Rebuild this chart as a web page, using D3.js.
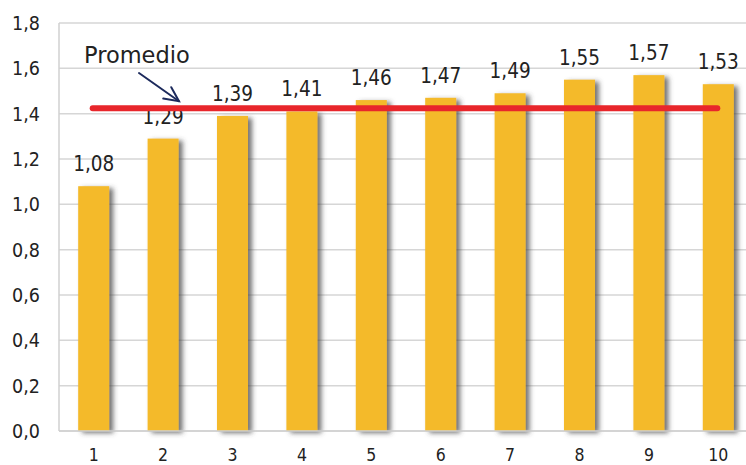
<!DOCTYPE html>
<html>
<head>
<meta charset="utf-8">
<script src="https://cdn.jsdelivr.net/npm/d3@7"></script>
<style>
  html, body { margin: 0; padding: 0; background: #fff; }
  svg { display: block; }
</style>
</head>
<body>
<svg id="chart" width="746" height="465"></svg>
<script>
// Categories (1..10) and their values
const categories = ["1", "2", "3", "4", "5", "6", "7", "8", "9", "10"];
const values = [1.08, 1.29, 1.39, 1.41, 1.46, 1.47, 1.49, 1.55, 1.57, 1.53];
const valueLabels = ["1,08", "1,29", "1,39", "1,41", "1,46", "1,47", "1,49", "1,55", "1,57", "1,53"];
const yTicks = [0, 0.2, 0.4, 0.6, 0.8, 1.0, 1.2, 1.4, 1.6, 1.8];
const yTickLabels = ["0,0", "0,2", "0,4", "0,6", "0,8", "1,0", "1,2", "1,4", "1,6", "1,8"];
const averageLabel = "Promedio";

const average = d3.mean(values);

const svg = d3.select("#chart");
const margin = { left: 59, top: 23, right: 753, bottom: 431 };
const font = "DejaVu Sans Condensed, DejaVu Sans, sans-serif";

const x = d3.scaleBand()
  .domain(categories)
  .range([margin.left, margin.right])
  .paddingInner(0.553)
  .paddingOuter(0.2765);

const y = d3.scaleLinear()
  .domain([0, 1.8])
  .range([margin.bottom, margin.top]);

// Soft shadow to the right of each bar
const defs = svg.append("defs");
const f = defs.append("filter").attr("id", "barShadow")
  .attr("x", "-20%").attr("y", "-5%").attr("width", "170%").attr("height", "115%");
f.append("feDropShadow")
  .attr("dx", 4).attr("dy", 2).attr("stdDeviation", 2.4)
  .attr("flood-color", "#444").attr("flood-opacity", 0.75);

// Horizontal gridlines
svg.append("g")
  .selectAll("line")
  .data(yTicks)
  .join("line")
  .attr("x1", margin.left).attr("x2", margin.right)
  .attr("y1", d => y(d)).attr("y2", d => y(d))
  .attr("stroke", "#d6d6d6").attr("stroke-width", 1.5);

// Left axis line
svg.append("line")
  .attr("x1", margin.left).attr("x2", margin.left)
  .attr("y1", y(1.8)).attr("y2", y(0))
  .attr("stroke", "#d0d0d0").attr("stroke-width", 1.5);

// Y tick labels
svg.append("g")
  .selectAll("text")
  .data(yTicks)
  .join("text")
  .attr("x", 40)
  .attr("y", d => y(d) + 7)
  .attr("text-anchor", "end")
  .attr("font-family", font)
  .attr("font-size", 19.5)
  .attr("fill", "#222")
  .text((d, i) => yTickLabels[i]);

// Bars
svg.append("g")
  .selectAll("rect")
  .data(values)
  .join("rect")
  .attr("x", (d, i) => x(categories[i]))
  .attr("y", d => y(d))
  .attr("width", x.bandwidth())
  .attr("height", d => y(0) - y(d))
  .attr("fill", "#f4ba2b")
  .attr("filter", "url(#barShadow)");

// Bottom axis line
svg.append("line")
  .attr("x1", margin.left).attr("x2", margin.right)
  .attr("y1", y(0)).attr("y2", y(0))
  .attr("stroke", "#d0d0d0").attr("stroke-width", 1.5);

// X tick labels
svg.append("g")
  .selectAll("text")
  .data(categories)
  .join("text")
  .attr("x", d => x(d) + x.bandwidth() / 2)
  .attr("y", 461)
  .attr("text-anchor", "middle")
  .attr("font-family", font)
  .attr("font-size", 17.5)
  .attr("fill", "#222")
  .text(d => d);

// Value labels above bars
svg.append("g")
  .selectAll("text")
  .data(values)
  .join("text")
  .attr("x", (d, i) => x(categories[i]) + x.bandwidth() / 2)
  .attr("y", d => y(d) - 15)
  .attr("text-anchor", "middle")
  .attr("font-family", font)
  .attr("font-size", 20.5)
  .attr("fill", "#222")
  .text((d, i) => valueLabels[i]);

// Average line
svg.append("line")
  .attr("x1", x(categories[0]) + x.bandwidth() / 2 - 1)
  .attr("x2", x(categories[categories.length - 1]) + x.bandwidth() / 2 - 1)
  .attr("y1", y(average)).attr("y2", y(average))
  .attr("stroke", "#e8262b").attr("stroke-width", 6)
  .attr("stroke-linecap", "round");

// Annotation label and arrow
svg.append("text")
  .attr("x", 84).attr("y", 63)
  .attr("font-family", "DejaVu Sans, sans-serif")
  .attr("font-size", 22.5)
  .attr("fill", "#222")
  .text(averageLabel);

const tip = [179, y(average) - 7];
const tail = [139, 73];
const ang = Math.atan2(tip[1] - tail[1], tip[0] - tail[0]);
const headLen = 16, spread = 0.45;
const arrow = svg.append("g")
  .attr("stroke", "#1c2a5c").attr("stroke-width", 2).attr("fill", "none")
  .attr("stroke-linecap", "round");
arrow.append("line")
  .attr("x1", tail[0]).attr("y1", tail[1])
  .attr("x2", tip[0]).attr("y2", tip[1]);
arrow.append("path")
  .attr("d", d3.line()([
    [tip[0] - headLen * Math.cos(ang - spread), tip[1] - headLen * Math.sin(ang - spread)],
    tip,
    [tip[0] - headLen * Math.cos(ang + spread), tip[1] - headLen * Math.sin(ang + spread)]
  ]));
</script>
</body>
</html>
